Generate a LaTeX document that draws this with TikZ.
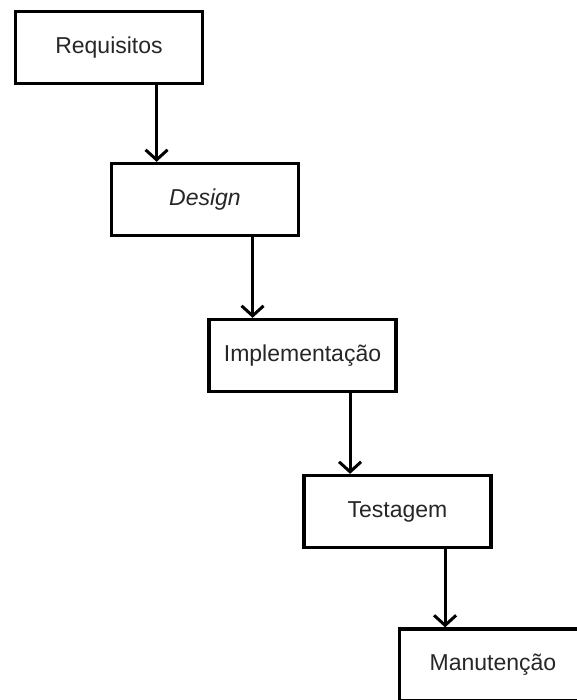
\documentclass[tikz,border=0pt]{standalone}
\usepackage{fontspec}
\setmainfont{Liberation Sans}
\usetikzlibrary{arrows.meta,calc}
\begin{document}
\begin{tikzpicture}[x=1pt,y=-1pt,
  stepbox/.style={draw=black,line width=3.3pt,rectangle,minimum width=187pt,minimum height=72pt,inner sep=0pt,font=\fontsize{23}{27}\selectfont,text=black!85},
  arr/.style={line width=3pt,-{Straight Barb[length=10pt,width=22pt,line width=3pt]}}]
\useasboundingbox (0,0) rectangle (577,700);
\begin{scope}
\clip (0,0) rectangle (577,700);
\node[stepbox] (a) at (109,47.5) {Requisitos};
\node[stepbox] (b) at (205,199.5) {\itshape Design};
\node[stepbox] (c) at (302.5,355.5) {Implementação};
\node[stepbox] (d) at (397.5,511.5) {Testagem};
\node[stepbox] (e) at (493,665) {Manutenção};
\coordinate (a1) at ($(a.south)!0.5!(a.south east)$);
\coordinate (b1) at ($(b.south)!0.5!(b.south east)$);
\coordinate (c1) at ($(c.south)!0.5!(c.south east)$);
\coordinate (d1) at ($(d.south)!0.5!(d.south east)$);
\draw[arr] (a1) -- (a1 |- b.north);
\draw[arr] (b1) -- (b1 |- c.north);
\draw[arr] (c1) -- (c1 |- d.north);
\draw[arr] (d1) -- (d1 |- e.north);
\end{scope}
\end{tikzpicture}
\end{document}
